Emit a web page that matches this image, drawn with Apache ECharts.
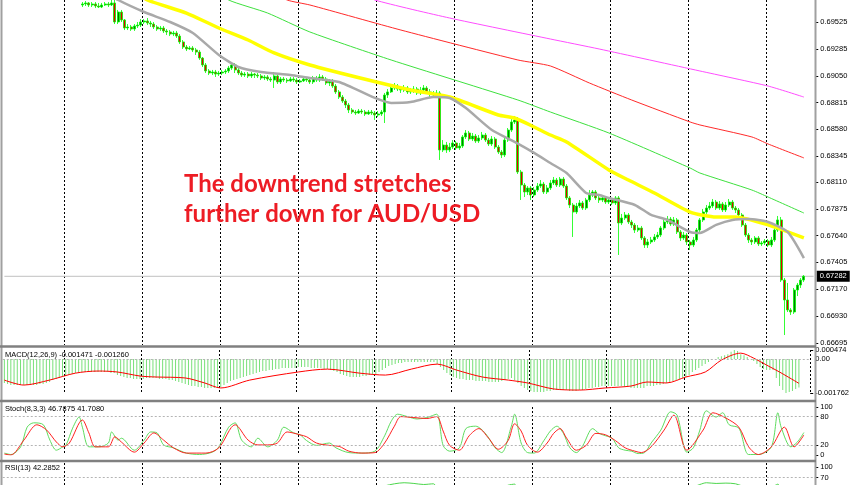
<!DOCTYPE html>
<html><head><meta charset="utf-8">
<script src="https://cdn.jsdelivr.net/npm/echarts@6/dist/echarts.min.js"></script>
<style>html,body{margin:0;padding:0;background:#fff;}#c{width:852px;height:485px;}</style>
</head><body><div id="c"></div>
<script>
// ---------- DATA ----------
const barCount = 250;            // bars on the time axis
const firstCandleBar = 24;       // first candle that is in the visible price range
const priceTicks = [0.69525,0.69285,0.69050,0.68815,0.68580,0.68345,0.68110,0.67875,0.67640,0.67405,0.67170,0.66930,0.66695];
const macdTicks = [0.000474, -0.001762];
const macdZero = 0;
const stochTicks = [100, 80, 20, 0];
const rsiTicks = [100, 70];
const rsiTop = 100;
const rsiLevel = 70;
const lastPrice = 0.67282;
const macdLabel = 'MACD(12,26,9) -0.001471 -0.001260';
const stochLabel = 'Stoch(8,3,3) 46.7875 41.7080';
const rsiLabel = 'RSI(13) 42.2852';
const headline = ['The downtrend stretches', 'further down for AUD/USD'];

// candles: [open, close, low, high]
const candles = [
[0.69675,0.69684,0.69657,0.69701],[0.69684,0.69693,0.69666,0.69710],[0.69693,0.69675,0.69657,0.69701],[0.69675,0.69684,0.69657,0.69701],
[0.69684,0.69666,0.69648,0.69701],[0.69666,0.69657,0.69648,0.69693],[0.69657,0.69675,0.69648,0.69693],[0.69675,0.69684,0.69666,0.69701],
[0.69684,0.69675,0.69657,0.69701],[0.69675,0.69693,0.69666,0.69719],[0.69693,0.69525,0.69507,0.69728],[0.69525,0.69613,0.69507,0.69631],
[0.69613,0.69543,0.69525,0.69631],[0.69543,0.69472,0.69454,0.69551],[0.69472,0.69481,0.69454,0.69507],[0.69481,0.69463,0.69446,0.69498],
[0.69463,0.69490,0.69446,0.69507],[0.69490,0.69498,0.69472,0.69525],[0.69498,0.69525,0.69481,0.69551],[0.69525,0.69534,0.69507,0.69551],
[0.69534,0.69516,0.69498,0.69560],[0.69516,0.69507,0.69481,0.69534],[0.69507,0.69481,0.69463,0.69525],[0.69481,0.69463,0.69446,0.69498],
[0.69463,0.69472,0.69446,0.69490],[0.69472,0.69446,0.69428,0.69490],[0.69446,0.69437,0.69410,0.69463],[0.69437,0.69419,0.69401,0.69454],
[0.69419,0.69428,0.69401,0.69446],[0.69428,0.69401,0.69384,0.69446],[0.69401,0.69349,0.69331,0.69419],[0.69349,0.69304,0.69287,0.69366],
[0.69304,0.69287,0.69269,0.69322],[0.69287,0.69296,0.69278,0.69313],[0.69296,0.69278,0.69260,0.69313],[0.69278,0.69260,0.69234,0.69296],
[0.69260,0.69207,0.69190,0.69278],[0.69207,0.69146,0.69128,0.69216],[0.69146,0.69093,0.69075,0.69163],[0.69093,0.69075,0.69057,0.69110],
[0.69075,0.69084,0.69057,0.69102],[0.69084,0.69066,0.69040,0.69102],[0.69066,0.69075,0.69049,0.69093],[0.69075,0.69084,0.69057,0.69102],
[0.69084,0.69093,0.69066,0.69110],[0.69093,0.69119,0.69075,0.69137],[0.69119,0.69146,0.69102,0.69172],[0.69146,0.69102,0.69075,0.69163],
[0.69102,0.69075,0.69057,0.69119],[0.69075,0.69057,0.69040,0.69093],[0.69057,0.69066,0.69040,0.69084],[0.69066,0.69049,0.69031,0.69084],
[0.69049,0.69066,0.69031,0.69084],[0.69066,0.69057,0.69031,0.69075],[0.69057,0.69049,0.69031,0.69075],[0.69049,0.69031,0.69013,0.69066],
[0.69031,0.69040,0.69013,0.69057],[0.69040,0.69022,0.69005,0.69057],[0.69022,0.69013,0.68996,0.69040],[0.69013,0.69049,0.68943,0.69084],
[0.69049,0.68996,0.68978,0.69066],[0.68996,0.69022,0.68978,0.69040],[0.69022,0.69013,0.68996,0.69040],[0.69013,0.69005,0.68987,0.69031],
[0.69005,0.69022,0.68996,0.69040],[0.69022,0.69013,0.68996,0.69040],[0.69013,0.68996,0.68978,0.69031],[0.68996,0.69005,0.68987,0.69022],
[0.69005,0.69022,0.68996,0.69040],[0.69022,0.69013,0.68996,0.69040],[0.69013,0.68996,0.68978,0.69031],[0.68996,0.69031,0.68978,0.69049],
[0.69031,0.69013,0.68996,0.69049],[0.69013,0.69040,0.68996,0.69066],[0.69040,0.69022,0.69005,0.69057],[0.69022,0.68987,0.68969,0.69040],
[0.68987,0.69005,0.68960,0.69022],[0.69005,0.68960,0.68943,0.69022],[0.68960,0.68908,0.68890,0.68978],[0.68908,0.68863,0.68846,0.68925],
[0.68863,0.68828,0.68811,0.68881],[0.68828,0.68793,0.68766,0.68846],[0.68793,0.68749,0.68722,0.68811],[0.68749,0.68731,0.68714,0.68766],
[0.68731,0.68722,0.68705,0.68749],[0.68722,0.68740,0.68714,0.68758],[0.68740,0.68731,0.68714,0.68758],[0.68731,0.68714,0.68696,0.68749],
[0.68714,0.68731,0.68705,0.68749],[0.68731,0.68722,0.68705,0.68749],[0.68722,0.68705,0.68661,0.68740],[0.68705,0.68714,0.68687,0.68740],
[0.68714,0.68731,0.68696,0.68749],[0.68731,0.68881,0.68634,0.68899],[0.68881,0.68908,0.68855,0.68934],[0.68908,0.68943,0.68899,0.68978],
[0.68943,0.68960,0.68925,0.68987],[0.68960,0.68934,0.68916,0.68978],[0.68934,0.68925,0.68899,0.68960],[0.68925,0.68943,0.68908,0.68969],
[0.68943,0.68908,0.68890,0.68960],[0.68908,0.68916,0.68890,0.68943],[0.68916,0.68934,0.68899,0.68960],[0.68934,0.68899,0.68881,0.68952],
[0.68899,0.68925,0.68881,0.68952],[0.68925,0.68943,0.68908,0.68969],[0.68943,0.68908,0.68890,0.68960],[0.68908,0.68890,0.68863,0.68934],
[0.68890,0.68881,0.68855,0.68916],[0.68881,0.68899,0.68863,0.68925],[0.68899,0.68396,0.68308,0.68916],[0.68396,0.68440,0.68378,0.68484],
[0.68440,0.68396,0.68370,0.68467],[0.68396,0.68422,0.68378,0.68458],[0.68422,0.68458,0.68405,0.68484],[0.68458,0.68414,0.68396,0.68475],
[0.68414,0.68431,0.68396,0.68458],[0.68431,0.68511,0.68414,0.68528],[0.68511,0.68546,0.68493,0.68572],[0.68546,0.68493,0.68475,0.68564],
[0.68493,0.68519,0.68475,0.68546],[0.68519,0.68475,0.68458,0.68537],[0.68475,0.68502,0.68458,0.68528],[0.68502,0.68528,0.68484,0.68555],
[0.68528,0.68484,0.68467,0.68546],[0.68484,0.68449,0.68431,0.68502],[0.68449,0.68493,0.68431,0.68519],[0.68493,0.68422,0.68405,0.68511],
[0.68422,0.68378,0.68361,0.68440],[0.68378,0.68352,0.68325,0.68396],[0.68352,0.68484,0.68334,0.68502],[0.68484,0.68572,0.68467,0.68590],
[0.68572,0.68643,0.68555,0.68669],[0.68643,0.68661,0.68625,0.68696],[0.68661,0.68202,0.68184,0.68687],[0.68202,0.68087,0.67955,0.68220],
[0.68087,0.68026,0.67981,0.68105],[0.68026,0.68061,0.67999,0.68078],[0.68061,0.67999,0.67955,0.68078],[0.67999,0.68043,0.67981,0.68070],
[0.68043,0.68078,0.68026,0.68105],[0.68078,0.68096,0.68061,0.68131],[0.68096,0.68026,0.68008,0.68114],[0.68026,0.68061,0.68008,0.68087],
[0.68061,0.68105,0.68043,0.68131],[0.68105,0.68131,0.68087,0.68158],[0.68131,0.68087,0.68070,0.68149],[0.68087,0.68140,0.68070,0.68158],
[0.68140,0.68078,0.68061,0.68158],[0.68078,0.67973,0.67955,0.68096],[0.67973,0.67911,0.67884,0.67990],[0.67911,0.67849,0.67629,0.67929],
[0.67849,0.67902,0.67832,0.67929],[0.67902,0.67929,0.67884,0.67955],[0.67929,0.67884,0.67867,0.67946],[0.67884,0.67955,0.67867,0.67973],
[0.67955,0.67999,0.67937,0.68043],[0.67999,0.68026,0.67981,0.68043],[0.68026,0.67973,0.67955,0.68043],[0.67973,0.67955,0.67929,0.67990],
[0.67955,0.67973,0.67937,0.67990],[0.67973,0.67937,0.67920,0.67990],[0.67937,0.67955,0.67920,0.67973],[0.67955,0.67929,0.67911,0.67973],
[0.67929,0.67973,0.67911,0.67990],[0.67973,0.67752,0.67470,0.67990],[0.67752,0.67796,0.67734,0.67832],[0.67796,0.67823,0.67779,0.67849],
[0.67823,0.67761,0.67743,0.67840],[0.67761,0.67734,0.67708,0.67779],[0.67734,0.67690,0.67664,0.67752],[0.67690,0.67708,0.67673,0.67734],
[0.67708,0.67620,0.67602,0.67726],[0.67620,0.67558,0.67532,0.67637],[0.67558,0.67585,0.67532,0.67611],[0.67585,0.67602,0.67567,0.67629],
[0.67602,0.67629,0.67585,0.67655],[0.67629,0.67646,0.67611,0.67673],[0.67646,0.67708,0.67629,0.67726],[0.67708,0.67761,0.67690,0.67787],
[0.67761,0.67787,0.67743,0.67814],[0.67787,0.67743,0.67726,0.67805],[0.67743,0.67779,0.67726,0.67805],[0.67779,0.67673,0.67655,0.67796],
[0.67673,0.67620,0.67593,0.67690],[0.67620,0.67646,0.67602,0.67673],[0.67646,0.67585,0.67558,0.67664],[0.67585,0.67558,0.67514,0.67602],
[0.67558,0.67602,0.67540,0.67629],[0.67602,0.67690,0.67585,0.67708],[0.67690,0.67779,0.67673,0.67796],[0.67779,0.67849,0.67761,0.67876],
[0.67849,0.67884,0.67832,0.67911],[0.67884,0.67902,0.67867,0.67937],[0.67902,0.67937,0.67884,0.67964],[0.67937,0.67884,0.67867,0.67955],
[0.67884,0.67920,0.67867,0.67946],[0.67920,0.67867,0.67849,0.67937],[0.67867,0.67911,0.67849,0.67937],[0.67911,0.67937,0.67893,0.67964],
[0.67937,0.67884,0.67867,0.67955],[0.67884,0.67867,0.67840,0.67902],[0.67867,0.67823,0.67805,0.67884],[0.67823,0.67734,0.67717,0.67840],
[0.67734,0.67646,0.67629,0.67752],[0.67646,0.67602,0.67576,0.67664],[0.67602,0.67585,0.67558,0.67620],[0.67585,0.67620,0.67567,0.67637],
[0.67620,0.67567,0.67549,0.67637],[0.67567,0.67576,0.67549,0.67593],[0.67576,0.67593,0.67558,0.67611],[0.67593,0.67558,0.67540,0.67611],
[0.67558,0.67602,0.67540,0.67629],[0.67602,0.67690,0.67585,0.67708],[0.67690,0.67779,0.67673,0.67814],[0.67779,0.67249,0.67232,0.67805],
[0.67249,0.67073,0.66764,0.67267],[0.67073,0.66985,0.66967,0.67223],[0.66985,0.66967,0.66941,0.67002],[0.66967,0.67161,0.66950,0.67179],
[0.67161,0.67205,0.67108,0.67223],[0.67205,0.67249,0.67179,0.67267],[0.67249,0.67282,0.67232,0.67293]
];

// moving averages: [bar, value]
const maGray = [[30,0.69807],[35,0.69719],[43,0.69613],[51,0.69525],[58,0.69428],[66,0.69234],[72,0.69128],[79,0.69084],[88,0.69058],[94,0.69031],[103,0.68996],[114,0.68855],[119,0.68811],[125,0.68819],[132,0.68863],[137,0.68855],[142,0.68766],[150,0.68572],[157,0.68467],[163,0.68370],[168,0.68281],[173,0.68193],[179,0.68017],[183,0.67999],[186,0.67973],[194,0.67911],[199,0.67823],[204,0.67779],[211,0.67673],[214,0.67664],[219,0.67735],[224,0.67779],[229,0.67787],[235,0.67761],[241,0.67673],[246,0.67443]];
const maYellow = [[40,0.69807],[44,0.69719],[56,0.69604],[66,0.69472],[75,0.69366],[83,0.69252],[94,0.69146],[112,0.69013],[125,0.68925],[137,0.68863],[152,0.68705],[157,0.68678],[163,0.68599],[168,0.68528],[173,0.68467],[186,0.68220],[192,0.68131],[200,0.68017],[211,0.67849],[219,0.67805],[225,0.67805],[235,0.67735],[246,0.67620]];
const maGreen = [[66,0.69807],[69,0.69719],[81,0.69604],[94,0.69437],[119,0.69190],[158,0.68837],[168,0.68731],[186,0.68546],[211,0.68237],[214,0.68193],[230,0.68043],[235,0.67981],[246,0.67840]];
const maRed = [[82,0.69807],[87,0.69719],[94,0.69675],[122,0.69454],[158,0.69190],[168,0.69137],[180,0.68987],[193,0.68837],[211,0.68643],[214,0.68617],[230,0.68511],[235,0.68449],[246,0.68326]];
const maMagenta = [[110,0.69790],[114,0.69719],[137,0.69560],[168,0.69375],[183,0.69287],[214,0.69093],[235,0.68960],[246,0.68863]];

// MACD main (histogram), one value per bar from bar 0
const macdMain = [
-0.001244,-0.001296,-0.001347,-0.001347,-0.001347,-0.001347,-0.001347,-0.001347,-0.001347,-0.001347,
-0.001347,-0.001296,-0.001296,-0.001244,-0.001192,-0.001088,-0.001036,-0.000985,-0.000933,-0.000881,
-0.000829,-0.000777,-0.000725,-0.000725,-0.000674,-0.000674,-0.000674,-0.000674,-0.000674,-0.000674,
-0.000674,-0.000674,-0.000674,-0.000725,-0.000725,-0.000829,-0.000881,-0.000933,-0.000985,-0.000985,
-0.001036,-0.001036,-0.001036,-0.001036,-0.000985,-0.000985,-0.000985,-0.000985,-0.001036,-0.001036,
-0.001036,-0.001088,-0.001088,-0.001140,-0.001192,-0.001244,-0.001296,-0.001347,-0.001399,-0.001399,
-0.001451,-0.001451,-0.001503,-0.001503,-0.001503,-0.001503,-0.001503,-0.001451,-0.001347,-0.001244,
-0.001140,-0.001088,-0.001036,-0.000985,-0.000933,-0.000881,-0.000829,-0.000777,-0.000725,-0.000674,
-0.000622,-0.000622,-0.000570,-0.000570,-0.000518,-0.000518,-0.000466,-0.000466,-0.000466,-0.000466,
-0.000466,-0.000415,-0.000415,-0.000415,-0.000415,-0.000466,-0.000466,-0.000466,-0.000466,-0.000518,
-0.000518,-0.000570,-0.000622,-0.000674,-0.000777,-0.000829,-0.000881,-0.000933,-0.000933,-0.000933,
-0.000933,-0.000881,-0.000881,-0.000829,-0.000829,-0.000777,-0.000674,-0.000570,-0.000466,-0.000363,
-0.000311,-0.000259,-0.000207,-0.000207,-0.000155,-0.000155,-0.000155,-0.000155,-0.000155,-0.000155,
-0.000155,-0.000155,-0.000155,-0.000155,-0.000259,-0.000415,-0.000570,-0.000725,-0.000829,-0.000933,
-0.000985,-0.001036,-0.001036,-0.001088,-0.001088,-0.001088,-0.001140,-0.001140,-0.001140,-0.001140,
-0.001192,-0.001192,-0.001192,-0.001192,-0.001140,-0.001088,-0.001036,-0.000985,-0.001088,-0.001244,
-0.001399,-0.001503,-0.001606,-0.001658,-0.001710,-0.001710,-0.001710,-0.001710,-0.001658,-0.001658,
-0.001606,-0.001606,-0.001606,-0.001606,-0.001606,-0.001658,-0.001658,-0.001658,-0.001606,-0.001606,
-0.001555,-0.001503,-0.001503,-0.001451,-0.001451,-0.001399,-0.001399,-0.001399,-0.001399,-0.001399,
-0.001399,-0.001399,-0.001451,-0.001451,-0.001503,-0.001503,-0.001503,-0.001503,-0.001503,-0.001399,
-0.001399,-0.001399,-0.001347,-0.001347,-0.001296,-0.001244,-0.001192,-0.001140,-0.001088,-0.001036,
-0.000985,-0.000933,-0.000829,-0.000674,-0.000570,-0.000466,-0.000363,-0.000259,-0.000155,-0.000052,
0.000010,0.000104,0.000155,0.000207,0.000259,0.000380,0.000474,0.000420,0.000259,0.000207,
0.000104,0.000000,-0.000104,-0.000259,-0.000415,-0.000518,-0.000570,-0.000570,-0.000570,-0.000985,
-0.001399,-0.001606,-0.001762,-0.001710,-0.001658,-0.001555,-0.001471
];
const macdSignal = [[0,-0.00109],[6,-0.00135],[14,-0.00109],[22,-0.00073],[29,-0.00062],[35,-0.00067],[42,-0.00088],[47,-0.00093],[56,-0.00098],[62,-0.00124],[67,-0.00150],[76,-0.00109],[91,-0.00067],[100,-0.00052],[110,-0.00073],[118,-0.00083],[126,-0.00052],[134,-0.00026],[140,-0.00057],[148,-0.00093],[156,-0.00109],[162,-0.00124],[170,-0.00155],[178,-0.00161],[186,-0.00150],[194,-0.00140],[199,-0.00119],[205,-0.00124],[211,-0.00093],[217,-0.00067],[222,-0.00005],[228,0.00031],[232,0.00005],[236,-0.00031],[240,-0.00067],[246,-0.00126]];

const stochMain = [[0,4],[2,1],[5,17],[7,58],[9,67],[12,63],[14,31],[16,10],[18,17],[19,21],[21,56],[23,79],[24,58],[26,17],[29,17],[32,25],[33,48],[35,31],[36,35],[40,10],[43,31],[45,48],[47,46],[49,21],[52,15],[56,4],[60,1],[64,6],[66,17],[69,58],[71,67],[73,31],[76,17],[78,35],[81,17],[84,31],[86,58],[89,46],[91,42],[93,30],[96,20],[100,25],[102,15],[106,5],[110,4],[114,8],[117,40],[119,70],[121,85],[124,80],[127,75],[130,78],[133,85],[135,20],[137,8],[140,15],[142,55],[145,60],[148,45],[151,15],[153,5],[156,60],[157,85],[159,25],[161,5],[163,4],[166,30],[168,50],[170,60],[172,45],[174,15],[176,5],[178,20],[181,55],[183,45],[185,40],[187,35],[189,15],[191,10],[193,8],[195,3],[197,5],[199,25],[202,52],[205,90],[207,83],[210,6],[212,15],[214,52],[216,92],[219,79],[221,88],[223,63],[226,56],[229,1],[232,1],[236,17],[238,88],[239,58],[242,17],[244,27],[246,46.7875]];
const stochSignal = [[0,2],[2,0],[6,31],[10,63],[13,52],[16,27],[18,17],[20,25],[24,73],[26,46],[28,17],[32,17],[34,38],[36,27],[40,6],[43,25],[46,46],[49,31],[52,15],[56,4],[62,4],[66,15],[71,63],[75,31],[78,21],[81,21],[84,25],[87,48],[91,42],[93,38],[96,25],[100,20],[103,18],[106,8],[110,4],[114,5],[117,25],[120,60],[122,80],[126,78],[130,76],[133,80],[135,50],[137,20],[140,10],[143,40],[146,55],[149,35],[152,12],[155,30],[157,65],[159,50],[161,20],[164,6],[167,25],[169,45],[171,55],[173,35],[176,10],[179,20],[182,45],[185,42],[188,30],[191,15],[194,8],[196,5],[199,17],[203,52],[206,83],[210,10],[215,52],[218,88],[222,77],[226,58],[229,17],[232,1],[236,17],[240,58],[243,17],[246,41.708]];
const rsi = [[0,30],[10,35],[24,38],[34,30],[44,38],[60,25],[70,40],[80,35],[90,42],[100,38],[110,30],[117,46],[120,52],[123,55],[126,53],[129,50],[132,52],[134,30],[140,30],[145,38],[150,32],[155,48],[157,51],[158,30],[165,28],[172,34],[176,30],[181,40],[187,35],[192,32],[198,28],[205,42],[210,38],[214,50],[216,55],[219,53],[222,54],[225,52],[227,46],[232,40],[236,42],[238,51],[239,30],[241,22],[243,35],[246,42.2852]];

// ---------- CHART ----------
const W = 852, H = 485;
const bars = Array.from({length: barCount}, (_, i) => String(i));
const gridEvery = 24, gridOffset = 19;
const FONT = 'Liberation Sans';
const chart = echarts.init(document.getElementById('c'), null, {renderer: 'canvas'});

const grids = [
  {left: 2.75, right: 36.75, top: 0, bottom: 140},
  {left: 2.75, right: 36.75, top: 350, bottom: 92},
  {left: 2.75, right: 36.75, top: 407, bottom: 30},
  {left: 2.75, right: 36.75, top: 463, bottom: 0}
];
function xAx(g) {
  return {type: 'category', gridIndex: g, data: bars, boundaryGap: true,
    axisLine: {show: false}, axisTick: {show: false}, axisLabel: {show: false},
    splitLine: {show: true, interval: (i) => i % gridEvery === gridOffset,
      lineStyle: {color: '#000', type: [2, 2], width: 1}}};
}
function yAx(g, min, max, ticks, fmt, showLabels) {
  return {type: 'value', gridIndex: g, position: 'right', min, max, scale: true,
    axisLine: {show: false}, splitLine: {show: false},
    axisTick: {show: true, length: 3, inside: false, customValues: ticks, lineStyle: {color: '#000'}},
    axisLabel: {show: showLabels !== false, customValues: ticks, formatter: fmt, margin: 5, color: '#000',
      fontSize: 7.5, fontFamily: FONT, showMinLabel: true, showMaxLabel: true, hideOverlap: false}};
}
const dotted = {color: '#b4b4b4', type: [2, 2], width: 1};
const levelLabel = (txt) => ({show: true, position: 'end', distance: 5, formatter: txt,
  color: '#000', fontSize: 7.5, fontFamily: FONT});
// RSI panel shows only its upper part (0.35 px per RSI point): 100 at y 467, 70 at y 477.5
const rsiMin = 48.57, rsiMax = 111.43;
const smallFont = '7.5px "Liberation Sans"';
// position of the RSI "100" tick label, from the RSI panel's own scale
const rsiGrid = grids[3];
const rsiTopY = rsiGrid.top + (rsiMax - rsiTop) / (rsiMax - rsiMin) * (H - rsiGrid.top - rsiGrid.bottom);
const labelX = W - rsiGrid.right + 5;

const option = {
  animation: false,
  backgroundColor: '#fff',
  grid: grids,
  xAxis: [xAx(0), xAx(1), xAx(2), xAx(3)],
  yAxis: [
    yAx(0, 0.66676, 0.69719, priceTicks, (v) => v.toFixed(5)),
    yAx(1, -0.001762, 0.000474, macdTicks, (v) => v.toFixed(6)),
    yAx(2, 0, 100, stochTicks, (v) => String(v)),
    yAx(3, rsiMin, rsiMax, rsiTicks, (v) => String(v), false)
  ],
  series: [
    {type: 'candlestick', xAxisIndex: 0, yAxisIndex: 0, clip: true, barWidth: 2.6,
      data: candles.map((r, i) => [i + firstCandleBar, r[0], r[1], r[2], r[3]]),
      encode: {x: 0, y: [1, 2, 3, 4]},
      itemStyle: {color: '#008000', color0: '#e00000', borderColor: '#00ff00', borderColor0: '#00ff00', borderWidth: 0.8}},
    // current price line across the panel, label at its right end
    {type: 'line', xAxisIndex: 0, yAxisIndex: 0, data: [[0, lastPrice], [barCount - 1, lastPrice]], symbol: 'none', silent: true, z: 1,
      lineStyle: {color: '#c0c0c0', width: 1},
      endLabel: {show: true, distance: 3, formatter: () => lastPrice.toFixed(5),
        backgroundColor: '#000', color: '#fff', fontSize: 7.5, fontFamily: FONT, padding: [2, 3, 1, 3]}},
    {type: 'line', xAxisIndex: 0, yAxisIndex: 0, data: maMagenta, symbol: 'none', smooth: 0.2, z: 3, lineStyle: {color: '#ff4dff', width: 1}},
    {type: 'line', xAxisIndex: 0, yAxisIndex: 0, data: maRed, symbol: 'none', smooth: 0.2, z: 3, lineStyle: {color: '#ff2a2a', width: 1}},
    {type: 'line', xAxisIndex: 0, yAxisIndex: 0, data: maGreen, symbol: 'none', smooth: 0.2, z: 3, lineStyle: {color: '#3ee03e', width: 1}},
    {type: 'line', xAxisIndex: 0, yAxisIndex: 0, data: maYellow, symbol: 'none', smooth: 0.2, z: 3, lineStyle: {color: '#ffff00', width: 3.5}},
    {type: 'line', xAxisIndex: 0, yAxisIndex: 0, data: maGray, symbol: 'none', smooth: 0.2, z: 3, lineStyle: {color: '#a9a9a9', width: 2.5}},
    {type: 'bar', xAxisIndex: 1, yAxisIndex: 1, data: macdMain, barWidth: 1, itemStyle: {color: '#78e078'},
      markLine: {symbol: 'none', silent: true, lineStyle: dotted,
        data: [{yAxis: macdZero, label: levelLabel('0.00')}]}},
    {type: 'line', xAxisIndex: 1, yAxisIndex: 1, data: macdSignal, symbol: 'none', smooth: 0.3, z: 3, lineStyle: {color: '#ff0000', width: 1}},
    {type: 'line', xAxisIndex: 2, yAxisIndex: 2, data: stochMain, symbol: 'none', smooth: 0.3, lineStyle: {color: '#5fdc5f', width: 1},
      markLine: {symbol: 'none', silent: true, label: {show: false}, lineStyle: dotted, data: [{yAxis: 80}, {yAxis: 20}]}},
    {type: 'line', xAxisIndex: 2, yAxisIndex: 2, data: stochSignal, symbol: 'none', smooth: 0.3, lineStyle: {color: '#ff2020', width: 1}},
    {type: 'line', xAxisIndex: 3, yAxisIndex: 3, data: rsi, symbol: 'none', smooth: 0.3, clip: true, lineStyle: {color: '#4cd64c', width: 1},
      markLine: {symbol: 'none', silent: true, lineStyle: dotted,
        data: [{yAxis: rsiLevel, label: levelLabel(String(rsiLevel))}]}}
  ],
  graphic: [
    {type: 'line', z: 50, shape: {x1: 1.5, y1: 0, x2: 1.5, y2: H}, style: {stroke: '#a0a0a0', lineWidth: 2}},
    {type: 'line', z: 50, shape: {x1: 815.5, y1: 0, x2: 815.5, y2: H}, style: {stroke: '#a0a0a0', lineWidth: 2}},
    {type: 'line', z: 50, shape: {x1: 0, y1: 346.5, x2: 816, y2: 346.5}, style: {stroke: '#808080', lineWidth: 2.5}},
    {type: 'line', z: 50, shape: {x1: 0, y1: 401, x2: 816, y2: 401}, style: {stroke: '#808080', lineWidth: 2.5}},
    {type: 'line', z: 50, shape: {x1: 0, y1: 461, x2: 816, y2: 461}, style: {stroke: '#808080', lineWidth: 2.5}},
    {type: 'text', z: 60, x: 5, y: 355, style: {text: macdLabel, fill: '#000', font: smallFont, verticalAlign: 'middle', textVerticalAlign: 'middle'}},
    {type: 'text', z: 60, x: 5, y: 409, style: {text: stochLabel, fill: '#000', font: smallFont, verticalAlign: 'middle', textVerticalAlign: 'middle'}},
    {type: 'text', z: 60, x: 5, y: 468, style: {text: rsiLabel, fill: '#000', font: smallFont, verticalAlign: 'middle', textVerticalAlign: 'middle'}},
    {type: 'text', z: 200, x: labelX, y: rsiTopY, style: {text: String(rsiTop), fill: '#000', font: smallFont, verticalAlign: 'middle', textVerticalAlign: 'middle'}},
    {type: 'text', z: 100, x: 184, y: 184.5, style: {text: headline[0], fill: '#ed1c24', font: 'bold 24px Lato', verticalAlign: 'middle', textVerticalAlign: 'middle'}},
    {type: 'text', z: 100, x: 184, y: 214.5, style: {text: headline[1], fill: '#ed1c24', font: 'bold 24px Lato', verticalAlign: 'middle', textVerticalAlign: 'middle'}}
  ]
};
chart.setOption(option);
</script>
</body></html>
